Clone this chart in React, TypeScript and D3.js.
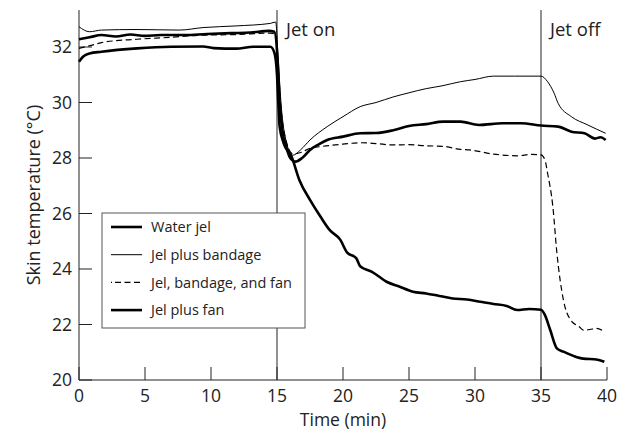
import React from "react";
import * as d3 from "d3";

type Pt = [number, number];

const xTicks = [0, 5, 10, 15, 20, 25, 30, 35, 40];
const yTicks = [20, 22, 24, 26, 28, 30, 32];
const eventTimes = [15, 35];
const eventLabels = ["Jet on", "Jet off"];

const waterJel: Pt[] = [
  [0, 32.28], [0.8, 32.35], [1.7, 32.43], [2.8, 32.38], [3.9, 32.45], [5, 32.4], [6.2, 32.43], [8, 32.43],
  [9.7, 32.47], [11.5, 32.5], [13, 32.52], [14.4, 32.58], [14.8, 32.55], [15.05, 31.5], [15.2, 30],
  [15.4, 29], [15.7, 28.4], [16.0, 28.0], [16.4, 27.87], [16.9, 28.0], [17.5, 28.29], [18.2, 28.5],
  [18.8, 28.65], [20, 28.77], [21.3, 28.89], [22.5, 28.9], [23.8, 29.0], [25, 29.15], [26.3, 29.22],
  [27.6, 29.31], [28.9, 29.31], [30.3, 29.19], [32.1, 29.25], [33.5, 29.25], [35, 29.17], [36.3, 29.13],
  [37.3, 28.95], [38.3, 28.89], [39.1, 28.7], [39.5, 28.75], [39.9, 28.65],
];

const jelBandage: Pt[] = [
  [0, 32.73], [0.8, 32.55], [1.7, 32.61], [4.4, 32.63], [7.6, 32.61], [9.4, 32.7], [11.9, 32.76],
  [14.5, 32.85], [14.9, 32.9], [15.1, 31.5], [15.3, 30], [15.6, 28.8], [16.2, 28.1], [16.8, 28.3],
  [17.5, 28.65], [18.8, 29.13], [20, 29.49], [21.3, 29.85], [22.5, 30.0], [23.8, 30.2], [25, 30.35],
  [26.3, 30.5], [27.5, 30.6], [28.9, 30.75], [30, 30.83], [31.4, 30.95], [33, 30.95], [35, 30.95],
  [35.5, 30.75], [36, 30.33], [36.3, 29.97], [37.3, 29.49], [38.5, 29.2], [39.9, 28.89],
];

const jelBandageFan: Pt[] = [
  [0, 31.95], [1, 32.07], [1.7, 32.16], [4.4, 32.28], [7, 32.35], [9, 32.42], [12, 32.45], [14.5, 32.5],
  [14.9, 32.45], [15.1, 31.2], [15.3, 29.8], [15.6, 28.8], [16.2, 28.15], [16.8, 28.2], [17.5, 28.35],
  [18.3, 28.41], [20, 28.5], [21.3, 28.55], [22.5, 28.52], [23.8, 28.47], [25, 28.48], [26.3, 28.44],
  [27.6, 28.42], [28.9, 28.31], [29.6, 28.29], [31.4, 28.14], [33.2, 28.08], [34.3, 28.13], [35, 28.11],
  [35.3, 27.93], [35.5, 27.45], [35.9, 26.24], [36.2, 24.6], [36.7, 22.88], [37.25, 22.16], [37.9, 21.92],
  [38.2, 21.8], [38.7, 21.82], [39.2, 21.86], [39.8, 21.74],
];

const jelFan: Pt[] = [
  [0, 31.47], [0.3, 31.65], [0.8, 31.77], [1.7, 31.83], [4.4, 31.95], [7, 32.01], [9.4, 32.02],
  [10.2, 31.96], [11.9, 31.94], [13.2, 32.01], [14.5, 32.01], [14.8, 31.8], [15.0, 31.0], [15.1, 30.0],
  [15.2, 29.13], [15.5, 28.54], [16.1, 28.05], [16.7, 27.2], [17.5, 26.49], [18.3, 25.88], [19, 25.4],
  [19.8, 25.05], [20.3, 24.6], [21, 24.39], [21.3, 24.1], [22.2, 23.9], [23.3, 23.54], [24.3, 23.36],
  [25.3, 23.18], [26.3, 23.12], [27.3, 23.03], [28.3, 22.94], [29.4, 22.9], [30.4, 22.82], [31.4, 22.74],
  [32.4, 22.67], [33.2, 22.52], [34.1, 22.56], [35, 22.53], [35.3, 22.34], [35.7, 21.8], [36.2, 21.14],
  [36.7, 21.02], [37.5, 20.86], [38.2, 20.77], [39.2, 20.74], [39.8, 20.66],
];

const seriesNames = ["Water jel", "Jel plus bandage", "Jel, bandage, and fan", "Jel plus fan"];
const seriesData = [waterJel, jelBandage, jelBandageFan, jelFan];

const styles = [
  { width: 2.6, dash: "" },
  { width: 1, dash: "" },
  { width: 1.2, dash: "6,3.5" },
  { width: 2.6, dash: "" },
];

const FONT = "'Open Sans', Lato, sans-serif";

export default function App() {
  const x = d3.scaleLinear().domain([0, 40]).range([79, 607]);
  const y = d3.scaleLinear().domain([20, 32]).range([380, 47]);
  const yTop = y(33.33);
  const line = d3
    .line<Pt>()
    .x((d) => x(d[0]))
    .y((d) => y(d[1]))
    .curve(d3.curveMonotoneX);

  const lg = { x: 102, y: 213, w: 203, h: 115 };

  return (
    <svg
      width={623}
      height={433}
      style={{ position: "absolute", left: 0, top: 0, background: "#fff" }}
      fontFamily={FONT}
    >
      <rect x={0} y={0} width={623} height={433} fill="#fff" />
      {/* axes */}
      <line x1={x(0)} x2={x(0)} y1={yTop} y2={y(20)} stroke="#222" strokeWidth={1} />
      <line x1={x(0)} x2={x(40)} y1={y(20)} y2={y(20)} stroke="#222" strokeWidth={1} />
      {yTicks.map((t) => (
        <g key={"y" + t}>
          <line x1={x(0)} x2={x(0) + 13} y1={y(t)} y2={y(t)} stroke="#222" strokeWidth={1} />
          <text x={72} y={y(t)} dy="0.36em" textAnchor="end" fontSize={17.5} fill="#222">
            {t}
          </text>
        </g>
      ))}
      {xTicks.map((t) => (
        <g key={"x" + t}>
          <line x1={x(t)} x2={x(t)} y1={y(20)} y2={y(20) - 13} stroke="#222" strokeWidth={1} />
          <text x={x(t)} y={402} textAnchor="middle" fontSize={17.5} fill="#222">
            {t}
          </text>
        </g>
      ))}
      {/* event lines */}
      {eventTimes.map((t, i) => (
        <g key={"e" + t}>
          <line x1={x(t)} x2={x(t)} y1={yTop} y2={y(20)} stroke="#222" strokeWidth={1} />
          <text x={x(t) + 9} y={36} fontSize={18.5} fill="#222">
            {eventLabels[i]}
          </text>
        </g>
      ))}
      {/* series */}
      {seriesData.map((d, i) => (
        <path
          key={seriesNames[i]}
          d={line(d) || ""}
          fill="none"
          stroke="#000"
          strokeWidth={styles[i].width}
          strokeDasharray={styles[i].dash || undefined}
          strokeLinejoin="round"
        />
      ))}
      {/* titles */}
      <text x={343} y={426} textAnchor="middle" fontSize={17.5} fill="#222">
        Time (min)
      </text>
      <text
        transform={`translate(40,${(yTop + y(20)) / 2}) rotate(-90)`}
        textAnchor="middle"
        fontSize={18}
        fill="#222"
      >
        Skin temperature (°C)
      </text>
      {/* legend */}
      <rect x={lg.x} y={lg.y} width={lg.w} height={lg.h} fill="#fff" stroke="#555" strokeWidth={1} />
      {seriesNames.map((n, i) => {
        const cy = lg.y + 14 + i * 27.7;
        return (
          <g key={"l" + n}>
            <line
              x1={lg.x + 9}
              x2={lg.x + 40}
              y1={cy}
              y2={cy}
              stroke="#000"
              strokeWidth={styles[i].width}
              strokeDasharray={styles[i].dash ? "1,3,6,3.5,6,3.5,6,3.5" : undefined}
            />
            <text x={lg.x + 49} y={cy} dy="0.36em" fontSize={14.5} fill="#222">
              {n}
            </text>
          </g>
        );
      })}
    </svg>
  );
}
